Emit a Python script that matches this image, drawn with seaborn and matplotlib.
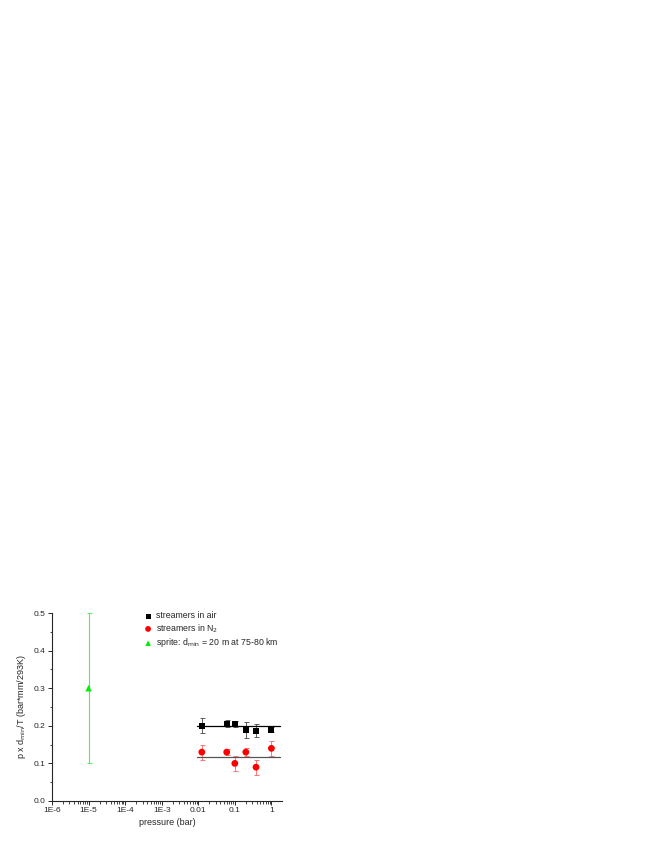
import matplotlib
matplotlib.use("Agg")
import matplotlib.pyplot as plt
import matplotlib.ticker as mticker
import numpy as np
import pandas as pd
import seaborn as sns

# data
air_p = [0.0125, 0.06, 0.1, 0.2, 0.38, 1.0]
air_v = [0.200, 0.206, 0.205, 0.189, 0.187, 0.190]
air_err = [0.020, 0.009, 0.007, 0.021, 0.017, 0.007]

n2_p = [0.0125, 0.06, 0.1, 0.2, 0.38, 1.0]
n2_v = [0.130, 0.130, 0.100, 0.130, 0.090, 0.140]
n2_err = [0.020, 0.008, 0.020, 0.010, 0.020, 0.020]

sprite_p = [1e-5]
sprite_v = [0.30]
sprite_err = [0.20]

fit_p = [0.0093, 1.75]
air_fit = [0.200, 0.200]
n2_fit = [0.117, 0.117]

xtick_vals = [1e-6, 1e-5, 1e-4, 1e-3, 0.01, 0.1, 1]
xtick_labels = ["1E-6", "1E-5", "1E-4", "1E-3", "0.01", "0.1", "1"]

sns.set_style("ticks")
plt.rcParams['font.family'] = ['Liberation Sans', 'DejaVu Sans']

fig = plt.figure(figsize=(6.54, 8.46), dpi=100)
ax = fig.add_axes([0.0795, 0.0532, 0.3517, 0.2222])

air = pd.DataFrame({"p": air_p, "v": air_v})
n2 = pd.DataFrame({"p": n2_p, "v": n2_v})
sprite = pd.DataFrame({"p": sprite_p, "v": sprite_v})

# error bars
ax.errorbar(air_p, air_v, yerr=air_err, fmt="none", ecolor="#444444",
            elinewidth=0.6, capsize=1.8, capthick=0.6, zorder=2)
ax.errorbar(n2_p, n2_v, yerr=n2_err, fmt="none", ecolor="#ff6060",
            elinewidth=0.6, capsize=1.8, capthick=0.6, zorder=2)
ax.errorbar(sprite_p, sprite_v, yerr=sprite_err, fmt="none", ecolor="#55ee55",
            elinewidth=0.8, capsize=1.8, capthick=0.7, zorder=2)

# constant lines
sns.lineplot(x=fit_p, y=air_fit, color="black", lw=0.9, ax=ax, zorder=3)
sns.lineplot(x=fit_p, y=n2_fit, color="#555555", lw=0.9, ax=ax, zorder=3)

sns.scatterplot(data=air, x="p", y="v", marker="s", color="black", s=18,
                edgecolor="none", label="streamers in air", ax=ax, zorder=4)
sns.scatterplot(data=n2, x="p", y="v", marker="o", color="red", s=24,
                edgecolor="none", label="streamers in N$_2$", ax=ax, zorder=4)
sns.scatterplot(data=sprite, x="p", y="v", marker="^", color="#00ee00", s=22,
                edgecolor="none", label="sprite: d$_{\\mathrm{min}}$ = 20 m at 75-80 km",
                ax=ax, zorder=4)

ax.set_xscale("log")
ax.set_xlim(1e-6, 1.95)
ax.set_ylim(0, 0.5)
ax.set_xticks(xtick_vals)
ax.set_xticklabels(xtick_labels)
ax.xaxis.set_minor_locator(mticker.LogLocator(base=10, subs=np.arange(2, 10)))
ax.xaxis.set_minor_formatter(mticker.NullFormatter())
ax.yaxis.set_major_locator(mticker.MultipleLocator(0.1))
ax.yaxis.set_minor_locator(mticker.MultipleLocator(0.05))
ax.yaxis.set_major_formatter(mticker.FormatStrFormatter("%.1f"))

ax.tick_params(which="major", length=3, width=0.7, labelsize=6, pad=1.5)
ax.tick_params(which="minor", length=1.8, width=0.6)
for s in ["top", "right"]:
    ax.spines[s].set_visible(False)
for s in ["left", "bottom"]:
    ax.spines[s].set_linewidth(0.8)

ax.set_xlabel("pressure (bar)", fontsize=6.5, labelpad=3)
ax.set_ylabel("p x d$_{\\mathrm{min}}$/T (bar*mm/293K)", fontsize=6.5, labelpad=4)

ax.legend(loc="upper left", bbox_to_anchor=(0.355, 1.05), frameon=False,
          fontsize=6.3, handletextpad=0.2, labelspacing=0.2, markerscale=0.85,
          handlelength=1.5)

fig.savefig("out.png", dpi=100)
